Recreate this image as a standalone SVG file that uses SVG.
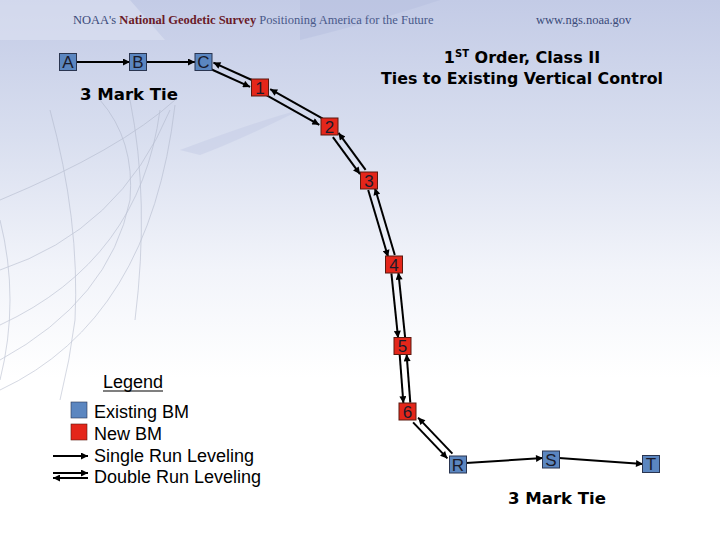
<svg xmlns="http://www.w3.org/2000/svg" width="720" height="540" viewBox="0 0 720 540">
<defs>
<linearGradient id="bg" x1="0" y1="0" x2="0" y2="1">
<stop offset="0" stop-color="#c3cbe6"/>
<stop offset="0.25" stop-color="#d8deef"/>
<stop offset="0.5" stop-color="#f2f4fa"/>
<stop offset="0.7" stop-color="#ffffff"/>
</linearGradient>
<marker id="ah" viewBox="0 0 10 10" refX="10" refY="5" markerWidth="9" markerHeight="7" markerUnits="userSpaceOnUse" orient="auto">
<path d="M0,0 L10,5 L0,10 z" fill="#000"/>
</marker>
<style>
.nb{fill:#5b86c0;stroke:#2a3550;stroke-width:1}
.nr{fill:#e4261a;stroke:#5a1a10;stroke-width:1}
.nt{font-family:"Liberation Sans",Arial,sans-serif;font-size:17px;fill:#1a1a2a;text-anchor:middle}
.c{stroke:#000;stroke-width:2;fill:none;marker-end:url(#ah)}
.ti{font-family:"DejaVu Sans",sans-serif;font-weight:bold;font-size:16px;fill:#000}
.lg{font-family:"Liberation Sans",Arial,sans-serif;font-size:18px;fill:#000}
.globe{fill:none;stroke:#aab2c6;stroke-width:0.7;opacity:0.7}
</style>
</defs>
<rect width="720" height="540" fill="url(#bg)"/>
<g opacity="0.5">
<path d="M0,0 L130,0 L165,40 L0,40 z" fill="#e2e6f4"/>
<path d="M300,0 L440,0 Q380,20 300,40 z" fill="#b7c0e0"/>
<path d="M180,150 Q260,120 300,110 Q240,140 200,155 z" fill="#c5cce6"/>
</g>
<g class="globe">
<path d="M0,200 Q120,150 175,100"/>
<path d="M0,270 Q120,230 170,110"/>
<path d="M0,325 Q140,260 160,110"/>
<path d="M0,390 Q150,320 175,105"/>
<path d="M0,360 Q110,300 130,200 Q135,140 100,100"/>
<path d="M50,110 Q80,220 75,320 Q70,360 60,400"/>
<path d="M0,220 Q20,300 0,380"/>
<path d="M130,100 Q150,200 135,320"/>
</g>
<g id="header" font-family="Liberation Serif,Times New Roman,serif" font-size="12.5px">
<text x="73" y="24" fill="#3a4a7a">NOAA's <tspan font-weight="bold" fill="#6a1a28">National Geodetic Survey</tspan> <tspan fill="#4a5a8a">Positioning America for the Future</tspan></text>
<text x="536" y="24" fill="#3a4a7a">www.ngs.noaa.gov</text>
</g>
<g id="title">
<text class="ti" x="522" y="63" text-anchor="middle">1<tspan font-size="10px" dy="-6">ST</tspan><tspan dy="6"> Order, Class II</tspan></text>
<text class="ti" x="381" y="84" textLength="282" lengthAdjust="spacingAndGlyphs">Ties to Existing Vertical Control</text>
</g>
<text id="tie1" class="ti" x="80" y="100" textLength="98" lengthAdjust="spacingAndGlyphs">3 Mark Tie</text>
<text id="tie2" class="ti" x="508" y="504" textLength="98" lengthAdjust="spacingAndGlyphs">3 Mark Tie</text>
<g id="connectors">
<line class="c" x1="76" y1="62" x2="130" y2="62"/>
<line class="c" x1="146" y1="62" x2="195" y2="62"/>
<line class="c" x1="210.6" y1="69" x2="250.1" y2="86.9"/>
<line class="c" x1="252.9" y1="80.5" x2="213.4" y2="62.6"/>
<line class="c" x1="266.8" y1="95.3" x2="319.3" y2="124.8"/>
<line class="c" x1="322.7" y1="118.7" x2="270.2" y2="89.2"/>
<line class="c" x1="332.9" y1="137.1" x2="360" y2="174.1"/>
<line class="c" x1="365.6" y1="169.9" x2="338.5" y2="132.9"/>
<line class="c" x1="368.2" y1="190" x2="388.1" y2="257"/>
<line class="c" x1="394.8" y1="255" x2="374.9" y2="188"/>
<line class="c" x1="391.4" y1="273.4" x2="398.1" y2="337.9"/>
<line class="c" x1="405.1" y1="337.1" x2="398.4" y2="272.6"/>
<line class="c" x1="399.7" y1="354.8" x2="403.4" y2="403.3"/>
<line class="c" x1="410.3" y1="402.7" x2="406.6" y2="354.2"/>
<line class="c" x1="413.1" y1="422.4" x2="447.4" y2="458.4"/>
<line class="c" x1="452.4" y1="453.6" x2="418.1" y2="417.6"/>
<line class="c" x1="466" y1="463" x2="543" y2="458"/>
<line class="c" x1="559" y1="458" x2="643" y2="464"/>
</g>
<g id="A"><rect class="nb" x="59.5" y="53.5" width="17" height="17"/><text class="nt" x="68" y="68">A</text></g>
<g id="B"><rect class="nb" x="129.5" y="53.5" width="17" height="17"/><text class="nt" x="138" y="68">B</text></g>
<g id="C"><rect class="nb" x="195" y="53.5" width="17" height="17"/><text class="nt" x="203.5" y="68">C</text></g>
<g id="n1"><rect class="nr" x="251.5" y="79" width="17" height="17"/><text class="nt" x="260" y="93.5">1</text></g>
<g id="n2"><rect class="nr" x="321" y="118" width="17" height="17"/><text class="nt" x="329.5" y="132.5">2</text></g>
<g id="n3"><rect class="nr" x="360.5" y="172" width="17" height="17"/><text class="nt" x="369" y="186.5">3</text></g>
<g id="n4"><rect class="nr" x="385.5" y="256" width="17" height="17"/><text class="nt" x="394" y="270.5">4</text></g>
<g id="n5"><rect class="nr" x="394" y="337.5" width="17" height="17"/><text class="nt" x="402.5" y="352">5</text></g>
<g id="n6"><rect class="nr" x="399" y="403" width="17" height="17"/><text class="nt" x="407.5" y="417.5">6</text></g>
<g id="R"><rect class="nb" x="449.5" y="456" width="17" height="17"/><text class="nt" x="458" y="470.5">R</text></g>
<g id="S"><rect class="nb" x="542.5" y="451" width="17" height="17"/><text class="nt" x="551" y="465.5">S</text></g>
<g id="T"><rect class="nb" x="642.5" y="455.5" width="17" height="17"/><text class="nt" x="651" y="470">T</text></g>
<g id="legend">
<text class="lg" x="103" y="388">Legend</text>
<line x1="103" y1="391" x2="163" y2="391" stroke="#000" stroke-width="1.2"/>
<rect x="71" y="402" width="16" height="16" fill="#5b86c0" stroke="#2a3550" stroke-width="0.6"/>
<rect x="71" y="424" width="16" height="16" fill="#e4261a" stroke="#5a1a10" stroke-width="0.6"/>
<line class="c" x1="53" y1="456" x2="88" y2="456"/>
<line class="c" x1="53" y1="473" x2="88" y2="473"/>
<line class="c" x1="88" y1="478" x2="53" y2="478"/>
<text class="lg" x="94" y="418">Existing BM</text>
<text class="lg" x="94" y="440">New BM</text>
<text class="lg" x="94" y="462">Single Run Leveling</text>
<text class="lg" x="94" y="483">Double Run Leveling</text>
</g>
</svg>
